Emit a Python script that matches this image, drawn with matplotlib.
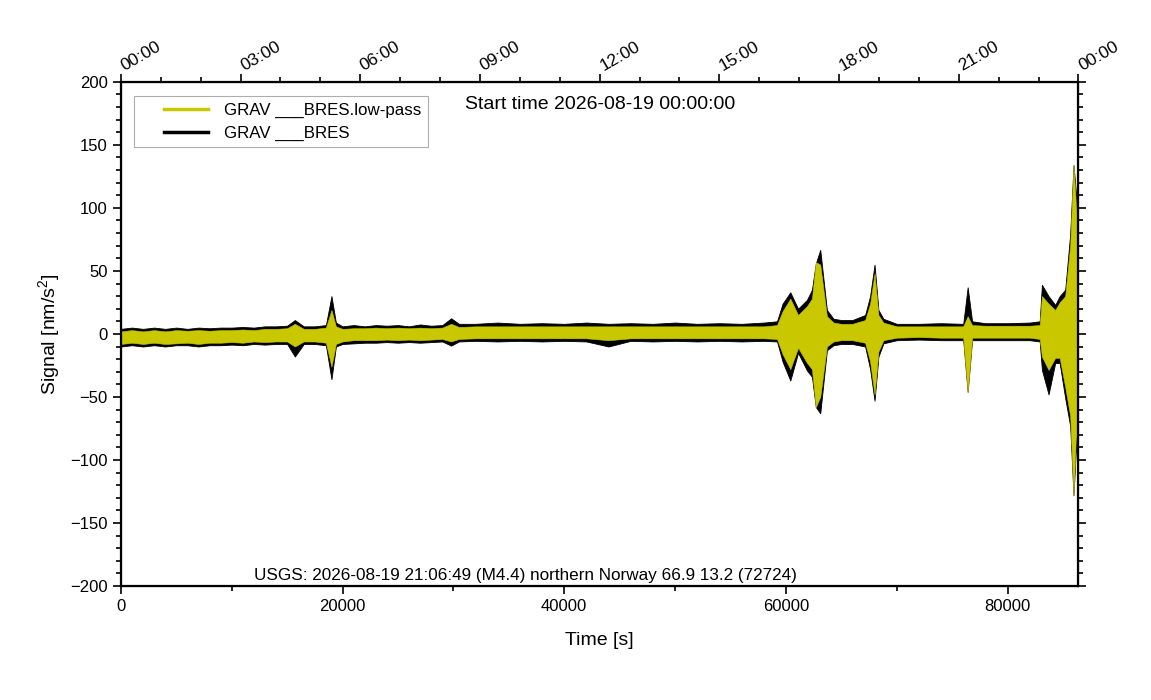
import matplotlib
matplotlib.use("Agg")
import matplotlib.pyplot as plt
from matplotlib.lines import Line2D
from matplotlib.legend_handler import HandlerLine2D
from matplotlib.ticker import MultipleLocator
from matplotlib.transforms import ScaledTranslation
import numpy as np

plt.rcParams["font.family"] = ["Liberation Sans", "DejaVu Sans"]
plt.rcParams["mathtext.default"] = "regular"

# envelope of the two traces (time in s, signal in nm/s^2)
t_knots = [0, 1000, 2000, 3000, 4000, 5000, 6000, 7000, 8000, 9000,
           10000, 11000, 12000, 13000, 14000, 15000, 15700, 16500, 17500, 18500,
           19000, 19400, 20000, 21000, 22000, 23000, 24000, 25000, 26000, 27000,
           28000, 29000, 29800, 30500, 32000, 34000, 36000, 38000, 40000, 42000,
           44000, 46000, 48000, 50000, 52000, 54000, 56000, 58000, 59200, 59700,
           60400, 61100, 61900, 62350, 62700, 63100, 63700, 64300, 65000, 66000,
           67150, 67600, 68000, 68350, 68800, 70000, 72000, 74000, 76000, 76400,
           76800, 78000, 80000, 82000, 82900, 83100, 83700, 84300, 84700, 85200,
           85650, 85950, 86150, 86330, 86400]
bres_hi = [4, 5, 4, 5, 4, 5, 4, 5, 4.5, 5,
           5, 5.5, 5, 6, 6, 6.5, 11, 6, 6, 7,
           30, 9, 6, 7, 6, 7, 6.5, 7, 6, 7.5,
           6.5, 7, 12.4, 8, 8, 9, 8, 8.5, 8, 9,
           8, 8.5, 8, 9, 8, 8.5, 8, 9, 10, 24,
           33, 20, 27, 35, 56, 66.7, 19, 12, 11, 11,
           15, 30, 55, 19, 12, 8, 8, 8.5, 8, 37,
           10, 8.5, 8.5, 9, 10, 39, 30, 23, 30, 35,
           79, 134, 114, 93, 100]
bres_lo = [-10, -9, -10, -9, -10, -9, -9, -10, -9, -9,
           -8.5, -9, -8, -8.5, -8, -8, -18, -8, -8, -9,
           -36, -10, -8, -7.5, -7, -7, -6.5, -7, -6.5, -7,
           -6.5, -6, -9.3, -6, -5.5, -6, -5.5, -6, -5.5, -6,
           -10, -5.5, -6, -5.5, -6, -5.5, -6, -5.5, -6, -22,
           -37, -15, -29, -34, -58, -63, -13, -9, -8, -8,
           -10, -28, -53, -18, -7.5, -5, -4.5, -5, -5, -46,
           -5, -5, -5, -5, -6, -28.6, -48, -23, -23, -51,
           -73, -128, -94, -84, -90]
lowpass_hi = [2, 3, 2, 3, 2, 3, 2.5, 3, 2.5, 3,
              3, 3.5, 3, 4, 4, 4.5, 8, 4, 4, 5,
              19, 6, 4, 4.5, 4.5, 5, 4.5, 5, 4.5, 5,
              4.5, 5, 8, 5.5, 6, 6, 6, 6, 6, 6,
              6, 6, 6, 6, 6, 6, 6, 6, 7, 18,
              28, 15, 22, 28, 57, 55, 14, 9, 8, 8,
              11, 24, 48, 15, 9, 6, 6, 6, 6, 14,
              7, 6.5, 6.5, 6.5, 7, 30, 24, 19, 25, 30,
              70, 134, 105, 85, 90]
lowpass_lo = [-8, -7, -8, -7, -8, -7.5, -7, -8, -7, -7,
              -6.5, -7, -6, -6.5, -6, -6, -10, -6, -6, -7,
              -26, -8, -6, -5, -5, -5, -4.5, -5, -4.5, -5,
              -4.5, -4, -6, -4, -3.5, -3.5, -3.5, -3.5, -3.5, -3.5,
              -5, -3.5, -3.5, -3.5, -3.5, -3.5, -3.5, -3.5, -4, -16,
              -28, -11, -23, -28, -58, -50, -10, -6, -5, -5,
              -7, -22, -48, -14, -5, -3, -2.5, -3, -3, -46,
              -3, -3, -3, -3, -4, -18, -28.6, -19, -19, -42,
              -65, -128, -85, -75, -80]

start_label = "Start time 2026-08-19 00:00:00"
event_label = "USGS: 2026-08-19 21:06:49 (M4.4) northern Norway 66.9 13.2 (72724)"
hour_ticks = np.arange(0, 86401, 10800)
hour_labels = ["00:00", "03:00", "06:00", "09:00", "12:00",
               "15:00", "18:00", "21:00", "00:00"]

yellow = "#c9c700"


class ShortLine(HandlerLine2D):
    # legend line drawn only on the right part of the handle box
    def create_artists(self, legend, orig_handle, xdescent, ydescent,
                       width, height, fontsize, trans):
        arts = super().create_artists(legend, orig_handle, xdescent, ydescent,
                                      width, height, fontsize, trans)
        for a in arts:
            y = a.get_ydata()
            a.set_data([width * 0.34, width], [y[0], y[-1]])
        return arts


fig = plt.figure(figsize=(11.51, 7.0), dpi=100)
ax = fig.add_axes([0.105, 0.163, 0.832, 0.72])

ax.fill_between(t_knots, bres_lo, bres_hi, color="black", lw=0.6)
ax.fill_between(t_knots, lowpass_lo, lowpass_hi, color=yellow, lw=0.4)

ax.set_xlim(0, 86400)
ax.set_ylim(-200, 200)
ax.xaxis.set_major_locator(MultipleLocator(20000))
ax.xaxis.set_minor_locator(MultipleLocator(10000))
ax.yaxis.set_major_locator(MultipleLocator(50))
ax.yaxis.set_minor_locator(MultipleLocator(10))
ax.tick_params(which="both", direction="out", right=True, labelsize=12, width=1.2)
ax.tick_params(which="major", length=6)
ax.tick_params(which="minor", length=3.5)
for s in ax.spines.values():
    s.set_linewidth(1.6)

ax.set_xlabel("Time [s]", fontsize=14, labelpad=13)
ax.set_ylabel("Signal [nm/s$^{2}$]", fontsize=14, labelpad=6)

top = ax.twiny()
top.set_xlim(0, 86400)
top.set_xticks(hour_ticks)
top.set_xticklabels(hour_labels, rotation=30, ha="left", rotation_mode="anchor")
top.xaxis.set_minor_locator(MultipleLocator(3600))
top.tick_params(which="both", direction="out", labelsize=12.5, width=1.2, pad=0)
top.tick_params(which="major", length=6)
top.tick_params(which="minor", length=3.5)
shift = ScaledTranslation(5 / 100, 0, fig.dpi_scale_trans)
for lbl in top.get_xticklabels():
    lbl.set_transform(lbl.get_transform() + shift)

ax.text(0.5, 0.956, start_label, transform=ax.transAxes, ha="center",
        va="center", fontsize=14)
ax.text(0.422, 0.006, event_label, transform=ax.transAxes, ha="center",
        va="bottom", fontsize=12.3)

handles = [Line2D([], [], color=yellow, lw=2.5),
           Line2D([], [], color="black", lw=2.5)]
leg = ax.legend(handles, ["GRAV ___BRES.low-pass", "GRAV ___BRES"],
                loc="upper left", bbox_to_anchor=(0.0136, 0.972),
                borderaxespad=0, fancybox=False, fontsize=12.2,
                handlelength=4.0, handletextpad=0.9, borderpad=0.4,
                labelspacing=0.45, handler_map={Line2D: ShortLine()})
leg.get_frame().set_edgecolor("#999999")
leg.get_frame().set_linewidth(0.8)

fig.savefig("out.png", dpi=100)
